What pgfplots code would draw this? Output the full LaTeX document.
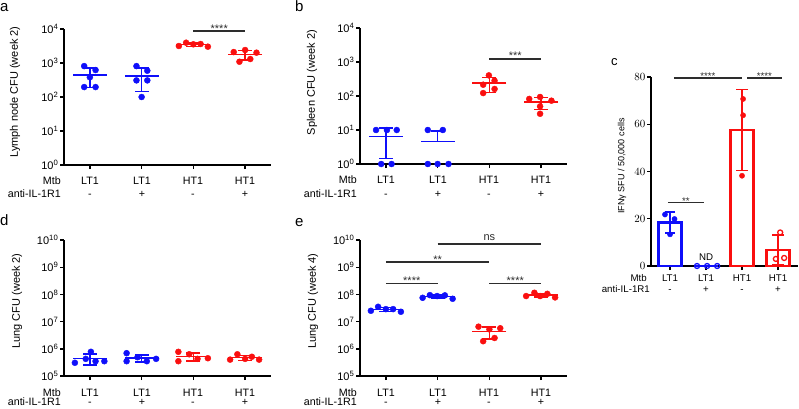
\documentclass[border=0pt]{standalone}
\usepackage{fontspec}
\setmainfont{Liberation Sans}
\usepackage{pgfplots}
\pgfplotsset{compat=1.18}
\definecolor{cb}{RGB}{15,15,250}
\definecolor{cr}{RGB}{250,15,15}
\definecolor{sig}{RGB}{45,45,45}
\newcommand{\fa}{\fontsize{11}{13}\selectfont}
\newcommand{\fb}{\fontsize{10.7}{12}\selectfont}
\newcommand{\fc}{\fontsize{9.7}{11}\selectfont}
\newcommand{\fl}{\fontsize{15}{17}\selectfont}
\pgfplotsset{
  mybase/.style={scale only axis, clip=false, axis lines=left,
    axis line style={-, line width=1.6pt},
    xtick={1,2,3,4}, xticklabels={},
    tick align=outside, major tick length=4pt, minor tick length=0pt,
    tick style={black, line width=1.4pt}},
  mycfu/.style={mybase, width=207pt, height=136pt, xmin=0.5, xmax=4.5,
    yticklabel style={font=\fa, inner sep=1.5pt}},
}
% group summary: color, x, mean, lo, hi
\newcommand{\grp}[5]{%
  \addplot[#1, line width=1.6pt] coordinates {(#2,#4) (#2,#5)};
  \addplot[#1, only marks, mark=-, mark size=7pt, mark options={line width=1.6pt}] coordinates {(#2,#4) (#2,#5)};
  \addplot[#1, only marks, mark=-, mark size=17pt, mark options={line width=1.6pt}] coordinates {(#2,#3)};
}
\newcommand{\pts}[2]{%
  \addplot[#1, only marks, mark=*, mark size=3pt, mark options={fill=#1, draw=#1}] coordinates {#2};
}
\begin{document}
\begin{tikzpicture}[x=1pt,y=1pt]
\path[use as bounding box] (0,0) rectangle (799,408);

% ---------------- panel a
\begin{axis}[mycfu, ymode=log, at={(64pt,243pt)}, anchor=south west, ymin=1, ymax=1e4,
  ytick={1,10,100,1000,10000},
  yticklabels={10\textsuperscript{0},10\textsuperscript{1},10\textsuperscript{2},10\textsuperscript{3},10\textsuperscript{4}}]
\pts{cb}{(0.89,810) (1.11,620) (1.0,380) (0.89,196) (1.11,196)}
\pts{cb}{(1.9,810) (2.11,594) (1.9,308) (2.11,308) (2.0,100)}
\pts{cr}{(2.72,3162) (2.86,3954) (3.0,3550) (3.14,3620) (3.28,3020)}
\pts{cr}{(3.78,2100) (4.0,2410) (4.22,2010) (3.89,1090) (4.1,1310)}
\grp{cb}{1}{440}{190}{700}
\grp{cb}{2}{420}{145}{700}
\grp{cr}{3}{3460}{3086}{3834}
\grp{cr}{4}{1784}{1225}{2343}
\addplot[sig, line width=1.2pt] coordinates {(3,8700) (4,8700)};
\node[anchor=base, font=\fa, text=sig, yshift=-1pt] at (axis cs:3.5,8700) {****};
\end{axis}

% ---------------- panel b
\begin{axis}[mycfu, ymode=log, at={(360pt,244pt)}, anchor=south west, ymin=1, ymax=1e4,
  ytick={1,10,100,1000,10000},
  yticklabels={10\textsuperscript{0},10\textsuperscript{1},10\textsuperscript{2},10\textsuperscript{3},10\textsuperscript{4}}]
\pts{cb}{(0.81,10) (1.02,10) (1.21,10) (0.91,1) (1.11,1)}
\pts{cb}{(1.81,10) (2.1,10) (1.81,1) (2.0,1) (2.21,1)}
\pts{cr}{(2.99,404) (3.1,282) (2.88,215) (3.1,161) (2.88,122)}
\pts{cr}{(3.77,82) (3.98,93.6) (4.2,72.8) (3.98,49.5) (3.98,30)}
\grp{cb}{1}{6.4}{1.47}{11.3}
\addplot[cb, line width=1.6pt] coordinates {(2,4.6) (2,9.53)};
\addplot[cb, only marks, mark=-, mark size=7pt, mark options={line width=1.6pt}] coordinates {(2,9.53)};
\addplot[cb, only marks, mark=-, mark size=17pt, mark options={line width=1.6pt}] coordinates {(2,4.6)};
\grp{cr}{3}{237}{126}{348}
\grp{cr}{4}{65.6}{40}{91}
\addplot[sig, line width=1.2pt] coordinates {(3,1230) (4,1230)};
\node[anchor=base, font=\fa, text=sig, yshift=-1pt] at (axis cs:3.5,1230) {***};
\end{axis}

% ---------------- panel d
\begin{axis}[mycfu, ymode=log, at={(64pt,32pt)}, anchor=south west, ymin=1e5, ymax=1e10,
  ytick={1e5,1e6,1e7,1e8,1e9,1e10},
  yticklabels={10\textsuperscript{5},10\textsuperscript{6},10\textsuperscript{7},10\textsuperscript{8},10\textsuperscript{9},10\textsuperscript{10}}]
\pts{cb}{(0.71,3.06e5) (0.92,4.27e5) (1.02,7.75e5) (1.11,3.5e5) (1.28,3.5e5)}
\pts{cb}{(1.71,6.9e5) (1.71,3.5e5) (1.92,4.9e5) (2.1,3.5e5) (2.28,4.27e5)}
\pts{cr}{(2.71,7.75e5) (2.71,3.5e5) (2.92,6.3e5) (3.08,4.27e5) (3.28,4.5e5)}
\pts{cr}{(3.71,4.0e5) (3.85,6.3e5) (4.0,4.27e5) (4.13,5.1e5) (4.27,4.0e5)}
\grp{cb}{1}{4.42e5}{2.51e5}{6.33e5}
\grp{cb}{2}{4.61e5}{3.2e5}{6.0e5}
\grp{cr}{3}{5.26e5}{3.53e5}{6.99e5}
\grp{cr}{4}{4.73e5}{3.75e5}{5.71e5}
\end{axis}

% ---------------- panel e
\begin{axis}[mycfu, ymode=log, at={(360pt,32pt)}, anchor=south west, ymin=1e5, ymax=1e10,
  ytick={1e5,1e6,1e7,1e8,1e9,1e10},
  yticklabels={10\textsuperscript{5},10\textsuperscript{6},10\textsuperscript{7},10\textsuperscript{8},10\textsuperscript{9},10\textsuperscript{10}}]
\pts{cb}{(0.71,2.5e7) (0.85,3.5e7) (1.0,2.88e7) (1.14,2.88e7) (1.29,2.3e7)}
\pts{cb}{(1.71,7.5e7) (1.85,9.4e7) (1.99,8.7e7) (2.14,9.2e7) (2.29,6.9e7)}
\pts{cr}{(2.79,6.5e6) (3.0,5.2e6) (3.21,5.7e6) (3.1,2.5e6) (2.88,1.9e6)}
\pts{cr}{(3.71,8.7e7) (3.87,1.15e8) (3.98,8.7e7) (4.12,1.05e8) (4.27,7.75e7)}
\grp{cb}{1}{2.81e7}{2.35e7}{3.27e7}
\grp{cb}{2}{8.34e7}{7.25e7}{9.43e7}
\grp{cr}{3}{4.36e6}{2.32e6}{6.4e6}
\grp{cr}{4}{9.43e7}{7.9e7}{1.096e8}
\addplot[sig, line width=1.2pt] coordinates {(1,2.5e8) (2,2.5e8)};
\addplot[sig, line width=1.2pt] coordinates {(3,2.5e8) (4,2.5e8)};
\addplot[sig, line width=1.2pt] coordinates {(1,1.55e9) (3,1.55e9)};
\addplot[sig, line width=1.2pt] coordinates {(2,7.1e9) (4,7.1e9)};
\node[anchor=base, font=\fa, text=sig, yshift=-1pt] at (axis cs:1.5,2.5e8) {****};
\node[anchor=base, font=\fa, text=sig, yshift=-1pt] at (axis cs:3.5,2.5e8) {****};
\node[anchor=base, font=\fa, text=sig, yshift=-1pt] at (axis cs:2,1.55e9) {**};
\node[anchor=base, font=\fa, text=sig, yshift=3.5pt] at (axis cs:3,7.1e9) {ns};
\end{axis}

% ---------------- panel c
\begin{axis}[mybase, at={(651pt,142pt)}, anchor=south west, width=147pt, height=189pt,
  xmin=0.472, xmax=4.555, ymin=0, ymax=80, ytick={0,20,40,60,80},
  yticklabel style={font=\fb, inner sep=1.5pt}]
\addplot[ybar, bar width=23pt, bar shift=0pt, draw=cb, fill=white, line width=2.2pt] coordinates {(1,18.4)};
\addplot[ybar, bar width=23pt, bar shift=0pt, draw=cr, fill=white, line width=2.2pt] coordinates {(3,57.6)};
\addplot[ybar, bar width=23pt, bar shift=0pt, draw=cr, fill=white, line width=2.2pt] coordinates {(4,6.9)};
\addplot[cb, line width=2.2pt] coordinates {(1.67,0) (2.33,0)};
\addplot[cb, line width=1.4pt] coordinates {(1,14) (1,22.8)};
\addplot[cb, only marks, mark=-, mark size=5pt, mark options={line width=1.4pt}] coordinates {(1,14) (1,22.8)};
\addplot[cr, line width=1.4pt] coordinates {(3,40.5) (3,74.7)};
\addplot[cr, only marks, mark=-, mark size=6pt, mark options={line width=1.4pt}] coordinates {(3,40.5) (3,74.7)};
\addplot[cr, line width=1.4pt] coordinates {(4,0.6) (4,13.2)};
\addplot[cr, only marks, mark=-, mark size=6pt, mark options={line width=1.4pt}] coordinates {(4,0.6) (4,13.2)};
\addplot[cb, only marks, mark=*, mark size=2.6pt, mark options={fill=cb}] coordinates {(0.86,21.8) (1.125,19.9) (1.0,13.4)};
\addplot[cr, only marks, mark=*, mark size=2.6pt, mark options={fill=cr}] coordinates {(3.03,70.7) (3.03,63.8) (3.0,38.2)};
\addplot[cb, only marks, mark=o, mark size=2.5pt, mark options={line width=1.3pt, fill=white}] coordinates {(1.75,0) (2.03,0) (2.31,0)};
\addplot[cr, only marks, mark=o, mark size=2.5pt, mark options={line width=1.3pt, fill=white}] coordinates {(3.94,3.0) (4.17,3.4) (4.06,14.2)};
\addplot[sig, line width=1.2pt] coordinates {(1.11,79.6) (2.99,79.6)};
\addplot[sig, line width=1.2pt] coordinates {(3.14,79.6) (4.11,79.6)};
\addplot[sig, line width=1.2pt] coordinates {(0.94,27) (1.94,27)};
\node[anchor=base, font=\fc, text=sig, yshift=-2pt] at (axis cs:2.05,79.6) {****};
\node[anchor=base, font=\fc, text=sig, yshift=-2pt] at (axis cs:3.62,79.6) {****};
\node[anchor=base, font=\fc, text=sig, yshift=-2pt] at (axis cs:1.44,27) {**};
\node[anchor=base, font=\fc] at (axis cs:2,2.5) {ND};
\end{axis}

% ---------------- y labels
\node[rotate=90, font=\fa] at (15,316) {Lymph node CFU (week 2)};
\node[rotate=90, font=\fa] at (312,325.5) {Spleen CFU (week 2)};
\node[rotate=90, font=\fa] at (17,107) {Lung CFU (week 2)};
\node[rotate=90, font=\fa] at (313,107) {Lung CFU (week 4)};
\node[rotate=90, font=\fontsize{9}{11}\selectfont] at (622,242) {IFNγ SFU / 50,000 cells};

% ---------------- category labels
\foreach \xo/\yo/\yt in {0/224/210.7, 296/224.5/211, 0/11.5/2.3, 296/11.5/2.3} {
  \node[anchor=base east, font=\fb, inner sep=0pt] at (61+\xo,\yo) {Mtb};
  \node[anchor=base east, font=\fb, inner sep=0pt] at (61+\xo,\yt) {anti-IL-1R1};
  \node[anchor=base, font=\fb, inner sep=0pt] at (90+\xo,\yo) {LT1};
  \node[anchor=base, font=\fb, inner sep=0pt] at (142+\xo,\yo) {LT1};
  \node[anchor=base, font=\fb, inner sep=0pt] at (193+\xo,\yo) {HT1};
  \node[anchor=base, font=\fb, inner sep=0pt] at (245+\xo,\yo) {HT1};
  \node[anchor=base, font=\fb, inner sep=0pt] at (90+\xo,\yt) {-};
  \node[anchor=base, font=\fb, inner sep=0pt] at (142+\xo,\yt) {+};
  \node[anchor=base, font=\fb, inner sep=0pt] at (193+\xo,\yt) {-};
  \node[anchor=base, font=\fb, inner sep=0pt] at (245+\xo,\yt) {+};
}
\node[anchor=base east, font=\fc, inner sep=0pt] at (647,127) {Mtb};
\node[anchor=base east, font=\fc, inner sep=0pt] at (650,115.3) {anti-IL-1R1};
\node[anchor=base, font=\fc, inner sep=0pt] at (670,127) {LT1};
\node[anchor=base, font=\fc, inner sep=0pt] at (706,127) {LT1};
\node[anchor=base, font=\fc, inner sep=0pt] at (742,127) {HT1};
\node[anchor=base, font=\fc, inner sep=0pt] at (778,127) {HT1};
\node[anchor=base, font=\fc, inner sep=0pt] at (670,115.3) {-};
\node[anchor=base, font=\fc, inner sep=0pt] at (706,115.3) {+};
\node[anchor=base, font=\fc, inner sep=0pt] at (742,115.3) {-};
\node[anchor=base, font=\fc, inner sep=0pt] at (778,115.3) {+};

% ---------------- panel letters
\node[anchor=base west, font=\fl, inner sep=0pt] at (0,396) {a};
\node[anchor=base west, font=\fl, inner sep=0pt] at (295,396.3) {b};
\node[anchor=base west, font=\fontsize{13}{15}\selectfont, inner sep=0pt] at (611,343) {c};
\node[anchor=base west, font=\fl, inner sep=0pt] at (0,182.3) {d};
\node[anchor=base west, font=\fl, inner sep=0pt] at (295,181.3) {e};
\end{tikzpicture}
\end{document}
